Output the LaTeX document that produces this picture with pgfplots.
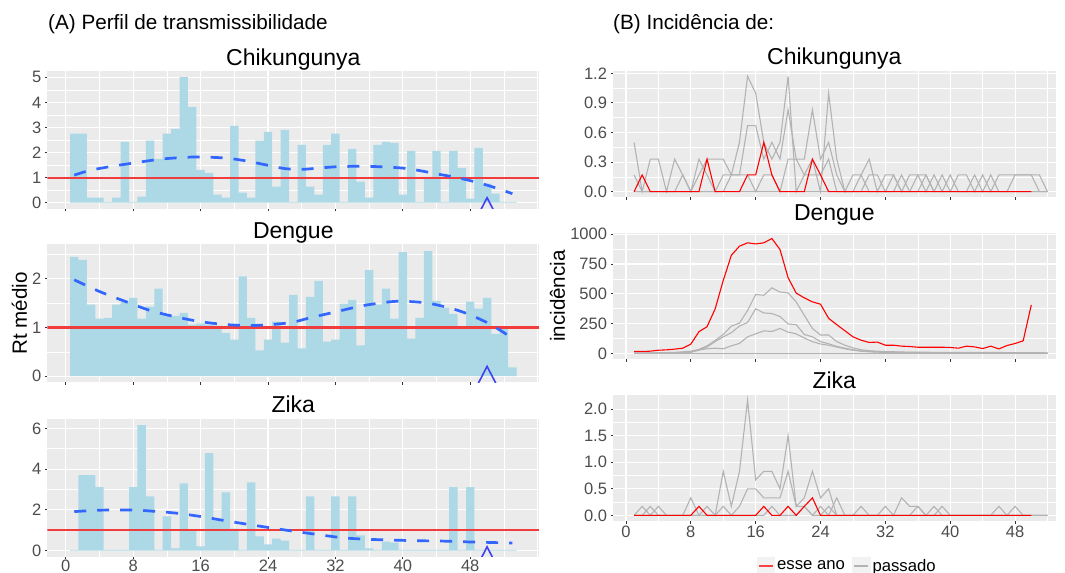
\documentclass[border=0pt]{standalone}
\usepackage{fontspec}
\setmainfont{Liberation Sans}
\usepackage{pgfplots}
\usepackage{pgfplotstable}
\pgfplotsset{compat=1.18}

\definecolor{panelbg}{HTML}{EBEBEB}
\definecolor{barblue}{HTML}{ADD8E6}
\definecolor{smoothblue}{HTML}{3366FF}
\definecolor{tickgray}{HTML}{4D4D4D}
\definecolor{tickmark}{HTML}{333333}
\definecolor{pastgray}{HTML}{B3B3B3}
\definecolor{chevblue}{HTML}{4040F0}
\definecolor{keybg}{HTML}{F2F2F2}
\definecolor{hlinered}{HTML}{F03C3C}

% weekly mean Rt (bars)
\pgfplotstableread{
w chik deng zika
1 2.75 2.45 0.03
2 2.75 2.39 3.70
3 0.20 1.47 3.70
4 0.20 1.18 3.11
5 0.03 1.20 0.03
6 0.20 1.47 0.03
7 2.43 1.53 0.03
8 0.03 1.61 3.11
9 0.24 1.18 6.16
10 2.47 1.43 2.66
11 1.75 1.80 0.03
12 2.75 1.27 1.68
13 2.94 1.24 0.10
14 5.01 1.30 3.30
15 3.82 1.06 0.99
16 1.31 1.08 0.20
17 1.19 1.06 4.78
18 0.32 1.04 1.53
19 0.20 0.89 2.86
20 3.06 0.75 1.08
21 0.40 2.05 0.03
22 0.20 1.20 3.35
23 2.47 0.53 0.69
24 2.82 0.75 0.30
25 0.64 1.12 0.59
26 2.90 0.69 0.49
27 0.03 1.67 0.03
28 2.31 0.57 0.03
29 0.64 1.63 2.66
30 0.32 1.96 0.03
31 2.31 0.71 0.03
32 2.75 0.75 2.66
33 0.03 1.49 0.03
34 2.15 1.57 2.66
35 0.84 0.63 0.74
36 0.20 2.18 0.10
37 2.31 1.47 0.03
38 2.43 1.80 0.44
39 2.39 1.18 0.39
40 0.32 2.55 0.03
41 2.07 0.77 0.03
42 0.03 1.20 0.03
43 1.03 2.57 0.03
44 2.07 1.55 0.03
45 0.03 1.41 0.03
46 2.07 1.28 3.11
47 1.39 1.00 0.03
48 0.16 1.53 3.11
49 2.19 1.39 0.03
50 0.76 1.61 0.03
51 0.36 0.87 0.03
52 0.03 0.98 0.03
53 0.03 0.18 0.03
}\barsdata

% past years, chikungunya incidence
\pgfplotstableread{
w g1 g2 g3 g4
1 0.5 0.17 0 0
2 0 0 0 0
3 0.33 0 0 0
4 0.33 0 0 0
5 0 0 0 0
6 0.33 0 0 0
7 0.17 0.17 0 0
8 0 0 0 0
9 0.33 0.17 0 0
10 0.17 0.33 0 0
11 0 0.33 0 0
12 0.17 0.33 0 0
13 0.17 0.17 0.17 0
14 0.5 0.17 0.17 0
15 1.17 0.67 0.17 0
16 1.0 0.67 0 0
17 0.5 0.33 0.17 0
18 0.33 0.5 0.17 0
19 0.5 0.33 0 0
20 1.17 0.83 0.33 0
21 0 0.33 0.33 0
22 0.17 0.33 0.17 0
23 0.33 0.83 0.17 0
24 0 0.33 0.17 0
25 1.0 0.5 0.33 0
26 0.33 0.17 0 0
27 0 0 0 0
28 0.17 0 0 0
29 0.17 0 0.17 0
30 0.33 0.17 0 0
31 0 0.17 0 0
32 0.17 0 0 0
33 0.17 0.17 0 0
34 0 0 0.17 0
35 0.17 0 0 0
36 0.17 0.17 0 0
37 0.17 0 0.17 0
38 0 0.17 0 0
39 0.17 0 0 0
40 0 0.17 0 0
41 0.17 0 0 0
42 0.17 0 0 0
43 0 0.17 0 0
44 0.17 0 0 0
45 0 0.17 0 0
46 0.17 0 0 0
47 0.17 0 0 0
48 0.17 0.17 0 0
49 0.17 0.17 0 0
50 0.17 0.17 0 0
51 0 0.17 0 0
52 0 0 0 0
}\chikgray

% past years, dengue incidence
\pgfplotstableread{
w g1 g2 g3 g4
1 3 3 2 2
2 4 3 2 2
3 5 4 3 2
4 6 5 3 2
5 8 6 4 2
6 10 8 5 2
7 14 10 6 2
8 20 15 10 2
9 35 28 30 2
10 65 55 40 2
11 110 100 45 2
12 160 140 40 2
13 230 175 65 2
14 255 230 85 2
15 360 260 140 2
16 495 375 165 2
17 488 340 190 2
18 550 335 185 2
19 515 310 210 2
20 508 248 180 2
21 432 242 165 2
22 320 160 130 2
23 210 140 100 2
24 155 100 80 2
25 155 82 70 2
26 100 60 55 2
27 70 45 40 2
28 48 32 28 2
29 32 22 20 2
30 24 17 15 2
31 20 14 12 2
32 17 12 10 2
33 15 11 9 2
34 13 10 8 2
35 12 9 8 2
36 11 9 7 2
37 11 8 7 2
38 10 8 6 2
39 10 8 6 2
40 10 7 6 2
41 9 7 6 2
42 9 7 5 2
43 9 7 5 2
44 9 6 5 2
45 9 6 5 2
46 9 6 5 2
47 8 6 5 2
48 8 6 5 2
49 8 5 4 2
50 8 5 4 2
51 7 5 4 2
52 6 4 4 2
}\denggray

% past years, zika incidence
\pgfplotstableread{
w g1 g2 g3
1 0 0 0
2 0.17 0 0
3 0 0.17 0
4 0.17 0 0
5 0 0 0
6 0 0 0
7 0 0 0
8 0.33 0 0
9 0 0 0
10 0.17 0 0
11 0 0 0
12 0.83 0.17 0
13 0.17 0 0
14 0.83 0.17 0
15 2.17 0.5 0
16 0.67 0.5 0
17 0.83 0.33 0
18 0.83 0.33 0.17
19 0.5 0.33 0
20 1.5 0.83 0
21 0.17 0.17 0
22 0.33 0.17 0.17
23 0.83 0 0
24 0.33 0.17 0
25 0.5 0 0.17
26 0 0.33 0
27 0 0 0
28 0 0 0
29 0.17 0 0
30 0 0 0
31 0 0 0
32 0.17 0 0
33 0 0 0
34 0.33 0 0
35 0.17 0 0
36 0.17 0.17 0
37 0 0 0
38 0.17 0 0
39 0 0.17 0
40 0 0 0
41 0 0 0
42 0 0 0
43 0 0 0
44 0 0 0
45 0 0 0
46 0.17 0 0
47 0 0 0
48 0.17 0 0
49 0 0 0
50 0 0 0
51 0 0 0
52 0 0 0
}\zikagray

\pgfplotsset{
  ggbase/.style={
    scale only axis,
    axis background/.style={fill=panelbg},
    axis line style={draw=none},
    xmajorgrids, ymajorgrids, xminorgrids, yminorgrids,
    major grid style={white, line width=1.1bp},
    minor grid style={white, line width=0.55bp},
    tick align=outside,
    major tick length=2.5bp,
    minor tick length=0bp,
    every tick/.style={tickmark, line width=0.9bp},
    tick pos=left,
    ticklabel style={font=\fontsize{16.5bp}{16.5bp}\selectfont, text=tickgray},
    xticklabel style={inner sep=1.5bp},
    title style={at={(0.5,1)}, anchor=base, yshift=0bp, font=\fontsize{23bp}{23bp}\selectfont},
    clip=true,
  },
  leftax/.style={ggbase, width=492bp, height=138bp, xmin=-2.2, xmax=56.2,
    xtick={0,8,16,24,32,40,48}, minor xtick={4,12,20,28,36,44,52,56}, xticklabels={}},
  leftover/.style={scale only axis, hide axis, width=492bp, height=138bp, xmin=-2.2, xmax=56.2, clip=true},
  rightax/.style={ggbase, width=442.6bp, height=126.5bp, xmin=-1.6, xmax=53.0,
    xtick={0,8,16,24,32,40,48}, minor xtick={4,12,20,28,36,44,52}, xticklabels={}},
  barsty/.style={ybar, bar width=1, fill=barblue, draw=none},
  hlsty/.style={color=hlinered, line width=2.2bp, solid},
  smoothsty/.style={smoothblue, line width=2.7bp, dash pattern=on 12bp off 11bp, smooth},
  chevsty/.style={chevblue, line width=1.6bp},
  graysty/.style={pastgray, line width=1.1bp},
  redsty/.style={red, line width=1.1bp},
}

\begin{document}
\begin{tikzpicture}
\path[use as bounding box] (0bp,0bp) rectangle (1065bp,573bp);

\node[anchor=base west, font=\fontsize{20.7bp}{20.7bp}\selectfont, inner sep=0pt] at (48bp,543.8bp) {(A) Perfil de transmissibilidade};
\node[anchor=base west, font=\fontsize{20.7bp}{20.7bp}\selectfont, inner sep=0pt] at (613bp,543.8bp) {(B) Incidência de:};

% ---------------- Left column ----------------
\begin{axis}[leftax, at={(47.3bp,502bp)}, anchor=north west,
  ymin=-0.25, ymax=5.25, ytick={0,1,2,3,4,5}, yticklabels={0,1,2,3,4,5},
  minor ytick={0.5,1.5,2.5,3.5,4.5}, title={Chikungunya}]
\addplot[barsty] table[x=w, y=chik] {\barsdata};
\end{axis}
\begin{axis}[leftover, at={(47.3bp,502bp)}, anchor=north west, ymin=-0.25, ymax=5.25]
\addplot[hlsty] coordinates {(-2.2,1) (56.2,1)};
\addplot[smoothsty] coordinates {(1,1.10) (3,1.30) (6,1.48) (8,1.58) (10,1.68) (12,1.76) (15,1.82) (18,1.80) (20,1.74) (22,1.63) (24,1.49) (26,1.36) (28,1.33) (30,1.38) (32,1.43) (34,1.45) (36,1.45) (38,1.42) (40,1.38) (42,1.28) (44,1.15) (46,1.03) (48,0.88) (50,0.70) (52,0.48) (53,0.36)};
\addplot[chevsty] coordinates {(48.95,-0.48) (50,0.2) (51.05,-0.48)};
\end{axis}

\begin{axis}[leftax, at={(47.3bp,328.6bp)}, anchor=north west,
  ymin=-0.129, ymax=2.709, ytick={0,1,2}, yticklabels={0,1,2},
  minor ytick={0.5,1.5,2.5}, title={Dengue},
  ylabel={Rt médio}, ylabel style={at={(axis description cs:-0.0565,0.5)}, anchor=center, font=\fontsize{20.6bp}{20.6bp}\selectfont}]
\addplot[barsty] table[x=w, y=deng] {\barsdata};
\end{axis}
\begin{axis}[leftover, at={(47.3bp,328.6bp)}, anchor=north west, ymin=-0.129, ymax=2.709]
\addplot[hlsty] coordinates {(-2.2,1) (56.2,1)};
\addplot[smoothsty] coordinates {(1,1.98) (4,1.74) (7,1.54) (10,1.35) (13,1.22) (16,1.12) (19,1.06) (22,1.04) (25,1.07) (27,1.11) (29,1.20) (32,1.32) (35,1.44) (38,1.52) (40,1.54) (43,1.50) (46,1.38) (48,1.26) (50,1.10) (51.5,0.95) (53,0.78)};
\addplot[chevsty] coordinates {(48.95,-0.15) (50,0.2) (51.05,-0.15)};
\end{axis}

\begin{axis}[leftax, at={(47.3bp,154.2bp)}, anchor=north west,
  ymin=-0.308, ymax=6.468, ytick={0,2,4,6}, yticklabels={0,2,4,6},
  minor ytick={1,3,5}, title={Zika}, xticklabels={0,8,16,24,32,40,48},
  xticklabel style={yshift=1.5bp}]
\addplot[barsty] table[x=w, y=zika] {\barsdata};
\end{axis}
\begin{axis}[leftover, at={(47.3bp,154.2bp)}, anchor=north west, ymin=-0.308, ymax=6.468]
\addplot[hlsty] coordinates {(-2.2,1) (56.2,1)};
\addplot[smoothsty] coordinates {(1,1.91) (4,1.98) (8,1.99) (10,1.94) (13,1.84) (16,1.67) (19,1.46) (22,1.26) (25,1.07) (27,0.95) (30,0.78) (33,0.62) (36,0.55) (39,0.51) (42,0.48) (45,0.46) (48,0.42) (51,0.39) (53,0.37)};
\addplot[chevsty] coordinates {(48.95,-0.66) (50,0.18) (51.05,-0.66)};
\end{axis}

% ---------------- Right column ----------------
\begin{axis}[rightax, at={(613bp,502.1bp)}, anchor=north west,
  ymin=-0.058, ymax=1.225, ytick={0,0.3,0.6,0.9,1.2}, yticklabels={0.0,0.3,0.6,0.9,1.2},
  minor ytick={0.15,0.45,0.75,1.05}, title={Chikungunya}]
\addplot[graysty] table[x=w, y=g4] {\chikgray};
\addplot[graysty] table[x=w, y=g3] {\chikgray};
\addplot[graysty] table[x=w, y=g2] {\chikgray};
\addplot[graysty] table[x=w, y=g1] {\chikgray};
\addplot[redsty] coordinates {(1,0) (2,0.17) (3,0) (4,0) (5,0) (6,0) (7,0) (8,0) (9,0) (10,0.33) (11,0) (12,0) (13,0) (14,0) (15,0.17) (16,0.17) (17,0.5) (18,0.17) (19,0) (20,0) (21,0) (22,0) (23,0.33) (24,0.17) (25,0) (26,0) (30,0) (35,0) (40,0) (45,0) (50,0)};
\end{axis}

\begin{axis}[rightax, at={(613bp,340.2bp)}, anchor=north west,
  ymin=-48, ymax=1011, ytick={0,250,500,750,1000}, yticklabels={0,250,500,750,1000},
  minor ytick={125,375,625,875}, title={Dengue}, title style={yshift=6bp},
  ylabel={incidência}, ylabel style={at={(axis description cs:-0.1254,0.5)}, anchor=center, font=\fontsize{20.6bp}{20.6bp}\selectfont}]
\addplot[graysty] table[x=w, y=g4] {\denggray};
\addplot[graysty] table[x=w, y=g3] {\denggray};
\addplot[graysty] table[x=w, y=g2] {\denggray};
\addplot[graysty] table[x=w, y=g1] {\denggray};
\addplot[redsty] coordinates {(1,17) (2,17) (3,20) (4,28) (5,31) (6,37) (7,45) (8,79) (9,183) (10,225) (11,374) (12,612) (13,823) (14,899) (15,927) (16,918) (17,927) (18,963) (19,871) (20,635) (21,506) (22,466) (23,433) (24,413) (25,295) (26,242) (27,191) (28,140) (29,112) (30,93) (31,96) (32,70) (33,70) (34,62) (35,59) (36,53) (37,53) (38,53) (39,53) (40,51) (41,45) (42,62) (43,56) (44,42) (45,62) (46,39) (47,67) (48,84) (49,107) (50,407)};
\end{axis}

\begin{axis}[rightax, at={(613bp,178.4bp)}, anchor=north west,
  ymin=-0.108, ymax=2.275, ytick={0,0.5,1,1.5,2}, yticklabels={0.0,0.5,1.0,1.5,2.0},
  minor ytick={0.25,0.75,1.25,1.75}, title={Zika}, xticklabels={0,8,16,24,32,40,48},
  xticklabel style={yshift=-1bp},
  legend columns=2,
  legend style={at={(0.529,-0.28)}, anchor=north, draw=none, fill=none, inner sep=0pt,
    font=\fontsize{16.7bp}{16.7bp}\selectfont, text=black,
    /tikz/every even column/.append style={column sep=5bp}},
  legend image code/.code={\fill[keybg] (0bp,-8.6bp) rectangle (17.3bp,8.6bp); \draw[#1] (1.7bp,0bp) -- (15.6bp,0bp);}]
\addlegendimage{red!75, line width=1.3bp}
\addlegendentry{esse ano}
\addlegendimage{pastgray, line width=1.3bp}
\addlegendentry{passado}
\addplot[graysty, forget plot] table[x=w, y=g3] {\zikagray};
\addplot[graysty, forget plot] table[x=w, y=g2] {\zikagray};
\addplot[graysty, forget plot] table[x=w, y=g1] {\zikagray};
\addplot[redsty, forget plot] coordinates {(1,0) (8,0) (9,0.17) (10,0) (16,0) (17,0.17) (18,0) (19,0) (20,0.17) (21,0) (22,0.17) (23,0.33) (24,0) (30,0) (40,0) (50,0)};
\end{axis}
\end{tikzpicture}
\end{document}
